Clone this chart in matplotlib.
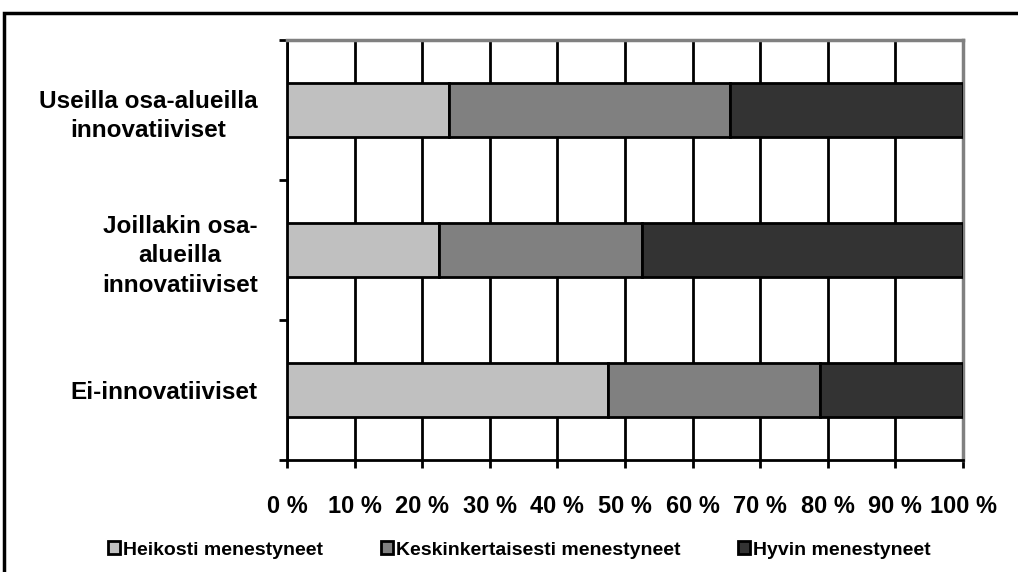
import matplotlib.pyplot as plt
import numpy as np
from matplotlib.patches import Rectangle, Patch

categories = ['Ei-innovatiiviset', 'Joillakin osa-\nalueilla\ninnovatiiviset', 'Useilla osa-alueilla\ninnovatiiviset']
series_names = ['Heikosti menestyneet', 'Keskinkertaisesti menestyneet', 'Hyvin menestyneet']
heikosti = [47.5, 22.5, 24.0]
keskink = [31.3, 30.0, 41.5]
hyvin = [21.2, 47.5, 34.5]
colors = ['#c0c0c0', '#808080', '#333333']
xticks = list(range(0, 101, 10))
xlabels = [f'{t} %' for t in xticks]

plt.rcParams['font.family'] = ['Liberation Sans', 'DejaVu Sans']
plt.rcParams['font.weight'] = 'bold'

fig = plt.figure(figsize=(10.18, 5.72), dpi=100)
ax = fig.add_axes([287/1018, 1 - 460/572, 676/1018, 420/572])

y = np.arange(len(categories))
left = np.zeros(len(categories))
for vals, col, name in zip([heikosti, keskink, hyvin], colors, series_names):
    ax.barh(y, vals, left=left, height=0.39, color=col, edgecolor='black',
            linewidth=2, label=name, zorder=3)
    left += np.array(vals)

ax.set_xlim(0, 100)
ax.set_ylim(-0.5, len(categories) - 0.5)
ax.set_xticks(xticks)
ax.set_xticklabels(xlabels, fontsize=17, fontweight='bold')
ax.set_yticks(y)
ax.set_yticklabels(categories, fontsize=17.5, fontweight='bold', ha='right',
                   multialignment='center', linespacing=1.38)
ax.tick_params(axis='y', length=0, pad=21)
ax.tick_params(axis='x', length=6, width=2, pad=19, direction='out')
ax.xaxis.grid(True, color='black', linewidth=2, zorder=0)
ax.set_axisbelow(True)

# y category boundary ticks
ax.set_yticks(np.arange(-0.5, len(categories), 1.0), minor=True)
ax.tick_params(axis='y', which='minor', length=6, width=2)

ax.spines['left'].set_linewidth(2)
ax.spines['bottom'].set_linewidth(2)
ax.spines['top'].set_color('#808080')
ax.spines['right'].set_color('#808080')
ax.spines['top'].set_linewidth(2.5)
ax.spines['right'].set_linewidth(2.5)

# outer chart frame
fig.patches.append(Rectangle((4/1018, -0.1), 1.2, 1 - 13/572 + 0.1, transform=fig.transFigure,
                             fill=False, edgecolor='black', linewidth=2.5))

handles = [Patch(facecolor=c, edgecolor='black', linewidth=2) for c in colors]
fig.legend(handles, series_names, loc='center left', bbox_to_anchor=(108/1018, 1 - 550/572),
           ncol=3, frameon=False, handlelength=0.6, handleheight=0.6,
           handletextpad=0.15, columnspacing=3.0, borderpad=0, borderaxespad=0,
           prop={'weight': 'bold', 'size': 14})

fig.savefig('out.png', dpi=100)
